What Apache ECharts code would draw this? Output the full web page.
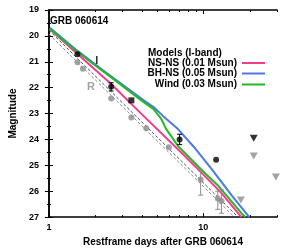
<!DOCTYPE html>
<html><head><meta charset="utf-8">
<script src="https://cdn.jsdelivr.net/npm/echarts@6/dist/echarts.min.js"></script>
<style>html,body{margin:0;padding:0;background:#fff}#c{width:300px;height:252px}</style>
</head><body><div id="c"></div>
<script>
const FONT = '"Liberation Sans", Arial, Helvetica, sans-serif';

// tick values
const xTickMajor = [1, 10];
const xTickMinor = [2, 3, 4, 5, 6, 7, 8, 9, 20, 30];
const xLabelValues = [1, 10];

// I-band detections (black)
const iDays = [1.53, 2.53, 7.02, 12.1];
const iMag  = [20.71, 21.96, 24.0, 24.78];
const iSqDays = [3.42];
const iSqMag  = [22.49];
const iLimDays = [21.2];
const iLimMag  = [23.95];
const iErr = [[2.53, 21.81, 22.13], [7.02, 23.80, 24.20]];

// R-band detections (grey)
const rDays = [1.53, 1.66, 2.53, 3.42, 4.27, 5.98, 9.61, 12.4, 13.1];
const rMag  = [21.02, 21.27, 22.42, 23.15, 23.57, 24.30, 25.55, 26.28, 26.38];
const rLimDays = [17.5, 21.2, 29.5];
const rLimMag  = [26.34, 24.64, 25.45];
const rErr = [[9.61, 25.15, 26.15], [12.4, 26.00, 26.70], [13.1, 25.95, 26.85]];

// models (I-band)
const nsnsModel = [[1.015,19.74],[1.526,20.69],[2.54,21.87],[4.11,23.10],[7.36,24.56],[9.86,25.32],[13.19,26.09],[17.65,27.0]];
const bhnsModel = [[1.015,19.69],[1.526,20.57],[2.295,21.38],[4.11,22.49],[4.76,22.75],[5.50,23.10],[6.85,23.60],[8.90,24.36],[11.40,25.17],[15.26,26.16],[19.84,27.0]];
const windModel = [[1.015,19.73],[1.526,20.61],[2.295,21.41],[4.11,22.56],[4.76,22.83],[5.34,23.21],[5.75,23.60],[6.85,24.25],[8.15,24.71],[9.86,25.21],[12.63,25.82],[17.65,26.85],[18.7,27.0]];

// power-law fits (dashed)
const iPowerLaw = [[1, 19.78], [16.8, 27.0]];
const rPowerLaw = [[1, 19.93], [15.9, 27.0]];

const annotations = [[2.04, 20.95, 'I', '#000'], [1.87, 21.99, 'R', '#8c8c8c']];

const seriesNames = ['NS-NS (0.01 Msun)', 'BH-NS (0.05 Msun)', 'Wind (0.03 Msun)'];
const seriesColors = ['#f23c8e', '#4a7be0', '#25b825'];

const zip = (a, b) => a.map((v, i) => [v, b[i]]);
const X_MAX = 30;
const lg = v => Math.log10(v);

function errBar(col) {
  return function (params, api) {
    const x = api.value(0), lo = api.value(1), hi = api.value(2);
    const a = api.coord([x, lo]), b = api.coord([x, hi]);
    const w = 2.5;
    const st = { stroke: col, lineWidth: 1 };
    return { type: 'group', children: [
      { type: 'line', shape: { x1: a[0], y1: a[1], x2: b[0], y2: b[1] }, style: st },
      { type: 'line', shape: { x1: a[0] - w, y1: a[1], x2: a[0] + w, y2: a[1] }, style: st },
      { type: 'line', shape: { x1: b[0] - w, y1: b[1], x2: b[0] + w, y2: b[1] }, style: st }
    ]};
  };
}

const tickAxis = (pos, vals, len, showLine) => ({
  type: 'value', position: pos, min: 0, max: lg(X_MAX),
  axisLine: { show: showLine, lineStyle: { color: '#000', width: 1.5 } },
  axisTick: { show: true, inside: true, length: len, customValues: vals.map(lg), lineStyle: { color: '#000', width: 1 } },
  axisLabel: { show: false }, splitLine: { show: false }
});

const chart = echarts.init(document.getElementById('c'), null, { renderer: 'canvas' });
const legendTops = [58, 68.5, 79.5];

chart.setOption({
  animation: false,
  backgroundColor: '#fff',
  textStyle: { fontFamily: FONT },
  grid: { left: 43, right: 23, top: 10, bottom: 33 },
  title: [
    { text: 'GRB 060614', left: 50, top: 16, padding: 0,
      textStyle: { fontFamily: FONT, fontSize: 10, fontWeight: 'bold', color: '#000' } },
    { text: 'Models (I-band)', left: 148, top: 48.5, padding: 0,
      textStyle: { fontFamily: FONT, fontSize: 10, fontWeight: 'bold', color: '#000' } }
  ],
  legend: seriesNames.map((n, i) => ({
    data: [n], right: 35, top: legendTops[i], orient: 'horizontal', align: 'right',
    padding: 0, itemWidth: 23, itemHeight: 2, icon: 'rect', selectedMode: false,
    textStyle: { fontFamily: FONT, fontSize: 10, fontWeight: 'bold', color: '#000' }
  })),
  xAxis: [
    { type: 'log', logBase: 10, min: 1, max: X_MAX, position: 'bottom',
      axisLine: { show: true, lineStyle: { color: '#000', width: 1.5 } },
      axisTick: { show: false },
      axisLabel: { show: true, margin: 6, color: '#000', fontFamily: FONT, fontSize: 9, fontWeight: 'bold',
        formatter: v => (xLabelValues.some(t => Math.abs(t - v) < 1e-6) ? String(Math.round(v)) : '') },
      splitLine: { show: false }, minorTick: { show: false },
      name: 'Restframe days after GRB 060614', nameLocation: 'middle', nameGap: 18,
      nameTextStyle: { fontFamily: FONT, fontSize: 10, fontWeight: 'bold', color: '#000' } },
    tickAxis('bottom', xTickMajor, 4, false),
    tickAxis('bottom', xTickMinor, 2, false),
    tickAxis('top', xTickMajor, 4, true),
    tickAxis('top', xTickMinor, 2, false)
  ],
  yAxis: [
    { type: 'value', inverse: true, min: 19, max: 27, interval: 1, position: 'left',
      axisLine: { show: true, lineStyle: { color: '#000', width: 1.5 } },
      axisTick: { show: true, inside: true, length: 4, lineStyle: { color: '#000', width: 1 } },
      minorTick: { show: true, splitNumber: 2, length: 2, lineStyle: { color: '#000', width: 1 } },
      axisLabel: { margin: 10, color: '#000', fontFamily: FONT, fontSize: 9, fontWeight: 'bold' },
      splitLine: { show: false },
      name: 'Magnitude', nameLocation: 'middle', nameGap: 28,
      nameTextStyle: { fontFamily: FONT, fontSize: 10, fontWeight: 'bold', color: '#000' } },
    { type: 'value', inverse: true, min: 19, max: 27, interval: 1, position: 'right',
      axisLine: { show: true, lineStyle: { color: '#000', width: 1.5 } },
      axisTick: { show: true, inside: true, length: 4, lineStyle: { color: '#000', width: 1 } },
      minorTick: { show: true, splitNumber: 2, length: 2, lineStyle: { color: '#000', width: 1 } },
      axisLabel: { show: false }, splitLine: { show: false } }
  ],
  series: [
    { type: 'line', name: 'rPL', data: rPowerLaw, symbol: 'none', silent: true,
      lineStyle: { color: '#8c8c8c', width: 1, type: [3, 2] }, z: 2 },
    { type: 'line', name: 'iPL', data: iPowerLaw, symbol: 'none', silent: true,
      lineStyle: { color: '#505050', width: 1, type: [3, 2] }, z: 2 },
    { type: 'line', name: seriesNames[1], data: bhnsModel, symbol: 'none', color: seriesColors[1],
      lineStyle: { width: 2 }, z: 3 },
    { type: 'line', name: seriesNames[0], data: nsnsModel, symbol: 'none', color: seriesColors[0],
      lineStyle: { width: 2 }, z: 3 },
    { type: 'line', name: seriesNames[2], data: windModel, symbol: 'none', color: seriesColors[2],
      lineStyle: { width: 2 }, z: 3 },
    { type: 'custom', name: 'rErr', renderItem: errBar('#8c8c8c'), encode: { x: 0, y: [1, 2] }, data: rErr, z: 4 },
    { type: 'custom', name: 'iErr', renderItem: errBar('#000'), encode: { x: 0, y: [1, 2] }, data: iErr, z: 5 },
    { type: 'scatter', name: 'rDet', data: zip(rDays, rMag), symbol: 'circle', symbolSize: 6,
      itemStyle: { color: '#8c8c8c' }, z: 4 },
    { type: 'scatter', name: 'rLim', data: zip(rLimDays, rLimMag), symbol: 'triangle', symbolRotate: 180,
      symbolSize: [8, 7], itemStyle: { color: '#8c8c8c' }, clip: false, z: 4 },
    { type: 'scatter', name: 'iDet', data: zip(iDays, iMag), symbol: 'circle', symbolSize: 6,
      itemStyle: { color: '#000' }, z: 5 },
    { type: 'scatter', name: 'iSq', data: zip(iSqDays, iSqMag), symbol: 'rect', symbolSize: 6,
      itemStyle: { color: '#000' }, z: 5 },
    { type: 'scatter', name: 'iLim', data: zip(iLimDays, iLimMag), symbol: 'triangle', symbolRotate: 180,
      symbolSize: [8, 7], itemStyle: { color: '#000' }, z: 5 },
    { type: 'scatter', name: 'ann', data: annotations.map(a => ({ value: [a[0], a[1]], label: { formatter: a[2], color: a[3] } })),
      symbolSize: 1, itemStyle: { color: 'rgba(0,0,0,0)' }, silent: true,
      label: { show: true, position: 'inside', fontFamily: FONT, fontSize: 11, fontWeight: 'bold' }, z: 6 }
  ]
});
</script></body></html>
